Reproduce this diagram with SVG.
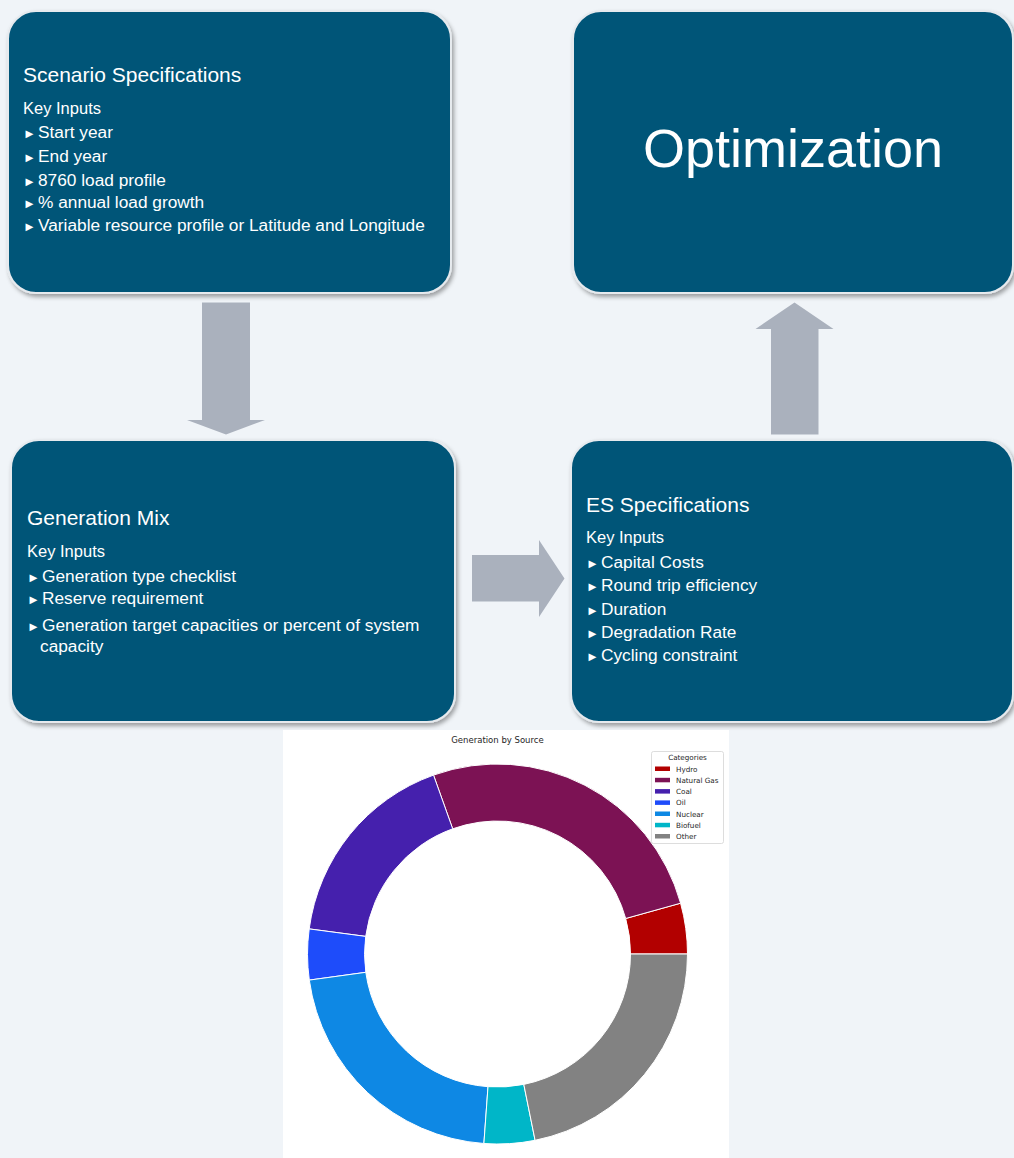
<svg xmlns="http://www.w3.org/2000/svg" width="1014" height="1158" viewBox="0 0 1014 1158">
<defs>
<filter id="sh" x="-5%" y="-5%" width="112%" height="115%">
<feDropShadow dx="2" dy="3" stdDeviation="2" flood-color="#000" flood-opacity="0.35"/>
</filter>
<style>
.box{fill:#015478;stroke:#e6eaee;stroke-width:2;filter:url(#sh)}
.t{font-family:"Liberation Sans",Arial,sans-serif;fill:#fff}
.ttl{font-size:21px}
.ki{font-size:16.5px}
.bl{font-size:17.3px}
.b{font-size:13px}
.arr{fill:#aab1bd}
.cf{font-family:"DejaVu Sans",sans-serif;fill:#262626}
.w{stroke:#fff;stroke-width:1}
</style>
</defs>
<rect x="0" y="0" width="1014" height="1158" fill="#f0f4f8"/>

<g id="connectors">
<polygon class="arr" points="202,302.5 250,302.5 250,420 265,420 226,434.5 187,420 202,420"/>
<polygon class="arr" points="472,555 539,555 539,540 564.5,578.5 539,617 539,601.5 472,601.5"/>
<polygon class="arr" points="794.5,302.5 833.5,329 818.5,329 818.5,434.5 771,434.5 771,329 755.5,329"/>
</g>

<g id="scenario">
<rect class="box" x="8" y="11" width="443" height="282" rx="28"/>
<text class="t ttl" x="23" y="82">Scenario Specifications</text>
<text class="t ki" x="23" y="114">Key Inputs</text>
<text class="t bl" x="23" y="138"><tspan class="b">►</tspan><tspan x="38">Start year</tspan></text>
<text class="t bl" x="23" y="162"><tspan class="b">►</tspan><tspan x="38">End year</tspan></text>
<text class="t bl" x="23" y="186"><tspan class="b">►</tspan><tspan x="38">8760 load profile</tspan></text>
<text class="t bl" x="23" y="208"><tspan class="b">►</tspan><tspan x="38">% annual load growth</tspan></text>
<text class="t bl" x="23" y="231"><tspan class="b">►</tspan><tspan x="38">Variable resource profile or Latitude and Longitude</tspan></text>
</g>

<g id="optimization">
<rect class="box" x="573" y="11" width="440" height="282" rx="28"/>
<text class="t" x="793" y="167" font-size="54" text-anchor="middle">Optimization</text>
</g>

<g id="generation-mix">
<rect class="box" x="11" y="440" width="444" height="282" rx="28"/>
<text class="t ttl" x="27" y="525">Generation Mix</text>
<text class="t ki" x="27" y="557">Key Inputs</text>
<text class="t bl" x="27" y="582"><tspan class="b">►</tspan><tspan x="42">Generation type checklist</tspan></text>
<text class="t bl" x="27" y="604"><tspan class="b">►</tspan><tspan x="42">Reserve requirement</tspan></text>
<text class="t bl" x="27" y="631"><tspan class="b">►</tspan><tspan x="42">Generation target capacities or percent of system</tspan></text>
<text class="t bl" x="40" y="652">capacity</text>
</g>

<g id="es-specifications">
<rect class="box" x="571" y="440" width="442" height="282" rx="28"/>
<text class="t ttl" x="586" y="512">ES Specifications</text>
<text class="t ki" x="586" y="543">Key Inputs</text>
<text class="t bl" x="586" y="568"><tspan class="b">►</tspan><tspan x="601">Capital Costs</tspan></text>
<text class="t bl" x="586" y="591"><tspan class="b">►</tspan><tspan x="601">Round trip efficiency</tspan></text>
<text class="t bl" x="586" y="615"><tspan class="b">►</tspan><tspan x="601">Duration</tspan></text>
<text class="t bl" x="586" y="638"><tspan class="b">►</tspan><tspan x="601">Degradation Rate</tspan></text>
<text class="t bl" x="586" y="661"><tspan class="b">►</tspan><tspan x="601">Cycling constraint</tspan></text>
</g>

<g id="chart">
<rect x="283" y="730" width="446" height="428" fill="#fff"/>
<text class="cf" x="497.5" y="742.5" font-size="8.5" text-anchor="middle">Generation by Source</text>
<path class="w" fill="#b20000" d="M687.5,954 A190,190 0 0 0 680.6,903.2 L625.7,918.5 A133,133 0 0 1 630.5,954 Z"/>
<path class="w" fill="#7c1254" d="M680.6,903.2 A190,190 0 0 0 433.5,775.1 L452.7,828.8 A133,133 0 0 1 625.7,918.5 Z"/>
<path class="w" fill="#4520ad" d="M433.5,775.1 A190,190 0 0 0 309.2,928.9 L365.7,936.4 A133,133 0 0 1 452.7,828.8 Z"/>
<path class="w" fill="#1e4cfa" d="M309.2,928.9 A190,190 0 0 0 309.3,980.1 L365.8,972.3 A133,133 0 0 1 365.7,936.4 Z"/>
<path class="w" fill="#0e88e4" d="M309.3,980.1 A190,190 0 0 0 483.9,1143.5 L488,1086.7 A133,133 0 0 1 365.8,972.3 Z"/>
<path class="w" fill="#00b6c8" d="M483.9,1143.5 A190,190 0 0 0 535.1,1140.3 L523.8,1084.4 A133,133 0 0 1 488,1086.7 Z"/>
<path class="w" fill="#828282" d="M535.1,1140.3 A190,190 0 0 0 687.5,954 L630.5,954 A133,133 0 0 1 523.8,1084.4 Z"/>
<g id="legend">
<rect x="651.5" y="751.5" width="72" height="92" rx="2" fill="#fff" fill-opacity="0.8" stroke="#d4d4d4" stroke-width="0.8"/>
<text class="cf" x="687.5" y="760" font-size="7.2" text-anchor="middle">Categories</text>
<rect x="655" y="766.5" width="15" height="4.5" fill="#b20000"/>
<rect x="655" y="777.8" width="15" height="4.5" fill="#7c1254"/>
<rect x="655" y="789.1" width="15" height="4.5" fill="#4520ad"/>
<rect x="655" y="800.4" width="15" height="4.5" fill="#1e4cfa"/>
<rect x="655" y="811.5" width="15" height="4.5" fill="#0e88e4"/>
<rect x="655" y="822.8" width="15" height="4.5" fill="#00b6c8"/>
<rect x="655" y="834" width="15" height="4.5" fill="#828282"/>
<text class="cf" x="676" y="771.5" font-size="7.2">Hydro</text>
<text class="cf" x="676" y="782.8" font-size="7.2">Natural Gas</text>
<text class="cf" x="676" y="794.1" font-size="7.2">Coal</text>
<text class="cf" x="676" y="805.4" font-size="7.2">Oil</text>
<text class="cf" x="676" y="816.5" font-size="7.2">Nuclear</text>
<text class="cf" x="676" y="827.8" font-size="7.2">Biofuel</text>
<text class="cf" x="676" y="839" font-size="7.2">Other</text>
</g>
</g>
</svg>
